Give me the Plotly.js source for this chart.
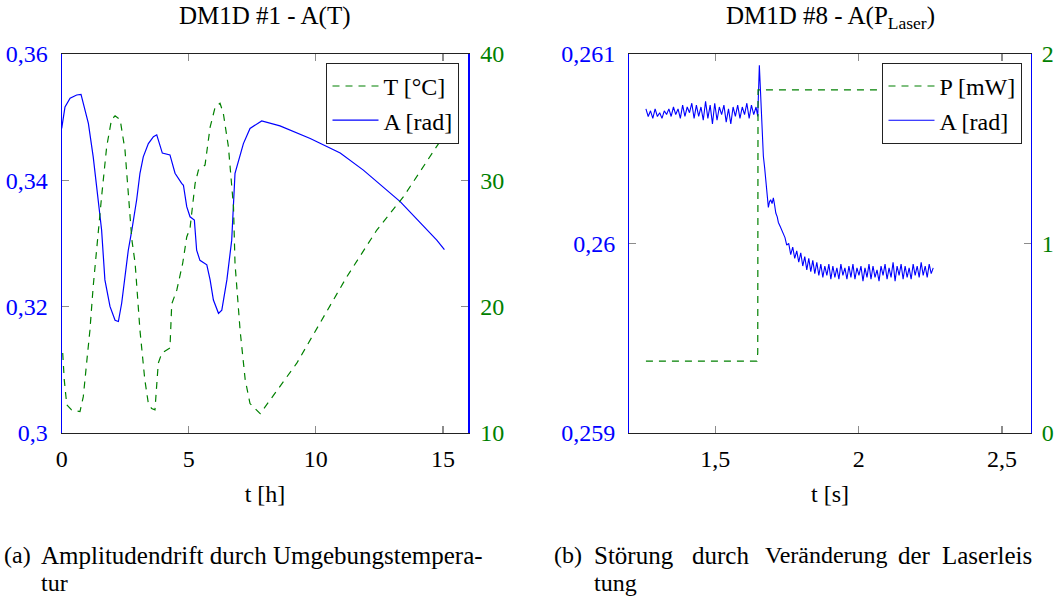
<!DOCTYPE html>
<html>
<head>
<meta charset="utf-8">
<script src="https://cdn.plot.ly/plotly-3.0.1.min.js"></script>
<style>html,body{margin:0;padding:0;background:#fff;}#chart{width:1055px;height:599px;}</style>
</head>
<body>
<div id="chart"></div>
<script>
// ---------- Left chart: DM1D #1 - A(T) ----------
const tA1 = [0, 0.13, 0.33, 0.59, 0.76, 1.05, 1.24, 1.44, 1.57, 1.7, 1.9, 2.1, 2.23, 2.36, 2.49, 2.62, 2.76, 2.95, 3.08, 3.21, 3.41, 3.61, 3.74, 3.96, 4.26, 4.46, 4.72, 4.79, 4.92, 5.05, 5.22, 5.31, 5.44, 5.71, 5.84, 5.97, 6.17, 6.3, 6.5, 6.69, 6.82, 6.89, 7.15, 7.41, 7.87, 8.59, 9.78, 10.96, 11.87, 13.32, 14.76, 15.06];
const A1  = [0.3482, 0.3516, 0.353, 0.3535, 0.3536, 0.349, 0.3437, 0.3369, 0.3321, 0.3242, 0.32, 0.3178, 0.3176, 0.3205, 0.3247, 0.3289, 0.3321, 0.3369, 0.3411, 0.3437, 0.3458, 0.3469, 0.3472, 0.3443, 0.344, 0.3411, 0.3395, 0.3392, 0.3358, 0.3342, 0.3337, 0.3289, 0.3273, 0.3266, 0.3242, 0.321, 0.3189, 0.3194, 0.3242, 0.3305, 0.3411, 0.3421, 0.3458, 0.3482, 0.3494, 0.3486, 0.3466, 0.3443, 0.3416, 0.3366, 0.3305, 0.329];
const tT1 = [0.04, 0.1, 0.2, 0.39, 0.72, 0.85, 0.98, 1.11, 1.24, 1.38, 1.57, 1.77, 1.96, 2.1, 2.3, 2.49, 2.62, 2.76, 2.89, 3.08, 3.27, 3.41, 3.54, 3.67, 3.8, 3.94, 4.26, 4.33, 4.53, 4.76, 4.92, 5.05, 5.25, 5.38, 5.64, 5.84, 6.04, 6.23, 6.36, 6.56, 6.76, 6.82, 7.02, 7.22, 7.41, 7.81, 9.25, 11.22, 12.4, 13.45, 14.83, 15.06];
const T1  = [16.3, 14.2, 12.2, 11.8, 11.66, 12.85, 15.5, 18.1, 21.6, 24.7, 28.7, 32.65, 34.8, 35.1, 34.8, 32.4, 29.2, 25.3, 23.4, 18.1, 14.2, 12.3, 11.9, 11.8, 15.5, 16.3, 16.7, 20.2, 21.3, 23.4, 25.5, 26.2, 29.75, 30.8, 31.2, 34.2, 35.8, 36.1, 35.3, 32.65, 27.9, 23.4, 18.1, 14.2, 12.3, 11.5, 15.5, 22.35, 26.05, 28.7, 32.9, 33.2];
const xTicks1 = [0, 5, 10, 15];
const xTickText1 = ['0', '5', '10', '15'];
const yTicks1 = [0.3, 0.32, 0.34, 0.36];
const yTickText1 = ['0,3', '0,32', '0,34', '0,36'];
const y2Ticks1 = [10, 20, 30, 40];
const y2TickText1 = ['10', '20', '30', '40'];

// ---------- Right chart: DM1D #8 - A(P_Laser) ----------
const tA2 = [1.258, 1.266, 1.274, 1.282, 1.290, 1.298, 1.306, 1.314, 1.322, 1.330, 1.338, 1.346, 1.354, 1.362, 1.370, 1.378, 1.386, 1.394, 1.402, 1.410, 1.418, 1.426, 1.434, 1.442, 1.450, 1.458, 1.466, 1.474, 1.482, 1.490, 1.498, 1.506, 1.514, 1.522, 1.530, 1.538, 1.546, 1.554, 1.562, 1.570, 1.578, 1.586, 1.594, 1.602, 1.610, 1.618, 1.626, 1.634, 1.642,
  1.648, 1.6536, 1.6585, 1.663, 1.6676, 1.672, 1.677, 1.681, 1.685, 1.689, 1.693, 1.698, 1.7025, 1.707, 1.711, 1.716, 1.72, 1.726, 1.732, 1.737, 1.743, 1.749,
  1.756, 1.763, 1.770, 1.777, 1.784, 1.791, 1.798, 1.805, 1.812, 1.819, 1.826, 1.833, 1.840, 1.847, 1.854, 1.861, 1.868, 1.875, 1.882, 1.889, 1.896, 1.903, 1.910, 1.917, 1.924, 1.931, 1.938, 1.945, 1.952, 1.959, 1.966, 1.973, 1.980, 1.987, 1.994, 2.001, 2.008, 2.015, 2.022, 2.029, 2.036, 2.043, 2.050, 2.057, 2.064, 2.071, 2.078, 2.085, 2.092, 2.099, 2.106, 2.113, 2.120, 2.127, 2.134, 2.141, 2.148, 2.155, 2.162, 2.169, 2.176, 2.183, 2.190, 2.197, 2.204, 2.211, 2.218, 2.225, 2.232, 2.239, 2.246, 2.253, 2.260];
const A2 = [0.26071, 0.26067, 0.26070, 0.26066, 0.26071, 0.26067, 0.26069, 0.26066, 0.26070, 0.26068, 0.26071, 0.26067, 0.26072, 0.26068, 0.26071, 0.26066, 0.26073, 0.26067, 0.26072, 0.26069, 0.26074, 0.26066, 0.26073, 0.26067, 0.26072, 0.26065, 0.26075, 0.26066, 0.26073, 0.26063, 0.26074, 0.26065, 0.26072, 0.26068, 0.26073, 0.26064, 0.26071, 0.26063, 0.26072, 0.26067, 0.26073, 0.26066, 0.26072, 0.26068, 0.26074, 0.26066, 0.26073, 0.26068, 0.26072,
  0.26067, 0.26094, 0.26076, 0.26062, 0.26046, 0.26040, 0.26032, 0.26026, 0.26019, 0.26022, 0.26023, 0.26021, 0.26024, 0.26020, 0.26016, 0.26014, 0.26011, 0.26009, 0.26007, 0.26005, 0.26003, 0.25999,
  0.26000, 0.25994, 0.25998, 0.25992, 0.25996, 0.25990, 0.25995, 0.25988, 0.25993, 0.25986, 0.25992, 0.25985, 0.25991, 0.25984, 0.25990, 0.25983, 0.25989, 0.25982, 0.25988, 0.25983, 0.25989, 0.25981, 0.25988, 0.25982, 0.25987, 0.25981, 0.25989, 0.25983, 0.25987, 0.25981, 0.25988, 0.25982, 0.25989, 0.25981, 0.25987, 0.25983, 0.25988, 0.25980, 0.25987, 0.25982, 0.25989, 0.25981, 0.25988, 0.25982, 0.25986, 0.25980, 0.25988, 0.25983, 0.25989, 0.25981, 0.25987, 0.25982, 0.25990, 0.25980, 0.25988, 0.25983, 0.25989, 0.25981, 0.25988, 0.25982, 0.25987, 0.25981, 0.25989, 0.25983, 0.25988, 0.25982, 0.25990, 0.25983, 0.25988, 0.25982, 0.25989, 0.25984, 0.25987];
const tP2 = [1.258, 1.645, 1.648, 1.649, 2.26];
const P2  = [0.378, 0.378, 0.42, 1.81, 1.81];
const xTicks2 = [1.5, 2, 2.5];
const xTickText2 = ['1,5', '2', '2,5'];
const yTicks2 = [0.259, 0.26, 0.261];
const yTickText2 = ['0,259', '0,26', '0,261'];
const y2Ticks2 = [0, 1, 2];
const y2TickText2 = ['0', '1', '2'];

// ---------- styling ----------
const FONT = 'Liberation Serif';
const FS = 24;
const BLUE = '#0000ff';
const GREEN = '#008000';
const TICKC = '#8c8c8c';
const W = 1055, H = 599;
const px = v => v / W;
const py = v => 1 - v / H;
const f = (c, s) => ({family: FONT, size: s || FS, color: c || '#000'});

const traces = [
  {x: tT1, y: T1, xaxis: 'x', yaxis: 'y2', mode: 'lines', name: 'T [°C]', legend: 'legend',
   line: {color: GREEN, width: 1.2, dash: '7px,6px'}},
  {x: tA1, y: A1, xaxis: 'x', yaxis: 'y', mode: 'lines', name: 'A [rad]', legend: 'legend',
   line: {color: BLUE, width: 1.2}},
  {x: tP2, y: P2, xaxis: 'x2', yaxis: 'y4', mode: 'lines', name: 'P [mW]', legend: 'legend2',
   line: {color: GREEN, width: 1.2, dash: '7px,6px'}},
  {x: tA2, y: A2, xaxis: 'x2', yaxis: 'y3', mode: 'lines', name: 'A [rad]', legend: 'legend2',
   line: {color: BLUE, width: 1.1}}
];

const xBase = {
  showline: true, linecolor: '#222', linewidth: 1.2, mirror: 'ticks',
  ticks: 'inside', ticklen: 7, tickwidth: 1.3, tickcolor: TICKC,
  showgrid: false, zeroline: false, automargin: false, ticklabelstandoff: 4,
  tickfont: f()
};
const yBase = {
  showline: true, linecolor: BLUE, linewidth: 1.2,
  ticks: 'inside', ticklen: 7, tickwidth: 1.3, tickcolor: TICKC,
  showgrid: false, zeroline: false, automargin: false, ticklabelstandoff: 8
};

const dom1 = [px(61.7), px(468.3)];
const dom2 = [px(629.3), px(1030.7)];
const ydom = [py(432.6), py(54)];

function ann(text, x, y, anchor, size) {
  return {text: text, xref: 'paper', yref: 'paper', x: px(x), y: py(y), xanchor: anchor, yanchor: 'middle',
          showarrow: false, font: f('#000', size)};
}
const legendBase = {xanchor: 'right', yanchor: 'top', bgcolor: '#fff', bordercolor: '#222', borderwidth: 1.2,
  font: f(), tracegroupgap: 0, itemwidth: 46};

const layout = {
  width: W, height: H,
  margin: {l: 0, r: 0, t: 0, b: 0, pad: 0},
  paper_bgcolor: '#fff', plot_bgcolor: 'rgba(0,0,0,0)',
  font: f(),
  xaxis: Object.assign({}, xBase, {domain: dom1, range: [0, 16], tickvals: xTicks1, ticktext: xTickText1, anchor: 'y',
    title: {text: 't [h]', font: f(), standoff: 14}}),
  yaxis: Object.assign({}, yBase, {domain: ydom, range: [0.3, 0.36], tickvals: yTicks1, ticktext: yTickText1, anchor: 'x', side: 'left',
    tickfont: f(BLUE)}),
  yaxis2: Object.assign({}, yBase, {overlaying: 'y', side: 'right', anchor: 'x', range: [10, 40], tickvals: y2Ticks1, ticktext: y2TickText1,
    tickfont: f(GREEN), ticklabelstandoff: 6}),
  xaxis2: Object.assign({}, xBase, {domain: dom2, range: [1.2, 2.6], tickvals: xTicks2, ticktext: xTickText2, anchor: 'y3',
    title: {text: 't [s]', font: f(), standoff: 14}}),
  yaxis3: Object.assign({}, yBase, {domain: ydom, range: [0.259, 0.261], tickvals: yTicks2, ticktext: yTickText2, anchor: 'x2', side: 'left',
    tickfont: f(BLUE)}),
  yaxis4: Object.assign({}, yBase, {overlaying: 'y3', side: 'right', anchor: 'x2', range: [0, 2], tickvals: y2Ticks2, ticktext: y2TickText2,
    tickfont: f(GREEN), ticklabelstandoff: 5}),
  legend: Object.assign({}, legendBase, {x: px(459.3), y: py(62.7)}),
  legend2: Object.assign({}, legendBase, {x: px(1022.3), y: py(62.7)}),
  showlegend: true,
  annotations: [
    ann('DM1D #1 - A(T)', 265, 16, 'center', 25),
    ann('DM1D #8 - A(P<sub>Laser</sub>)', 830, 17, 'center', 25),
    ann('(a)', 2, 555, 'left', 24),
    ann('Amplitudendrift durch Umgebungstempera-', 39, 555, 'left', 25),
    ann('tur', 39, 583, 'left', 24),
    ann('(b)', 552, 555, 'left', 24),
    ann('Störung', 592, 555, 'left', 25),
    ann('durch', 690, 555, 'left', 25),
    ann('Veränderung', 763, 555, 'left', 24),
    ann('der', 896, 555, 'left', 25),
    ann('Laserleis', 940, 555, 'left', 25),
    ann('tung', 592, 583, 'left', 24)
  ]
};

Plotly.newPlot('chart', traces, layout, {staticPlot: true, displayModeBar: false});
</script>
</body>
</html>
